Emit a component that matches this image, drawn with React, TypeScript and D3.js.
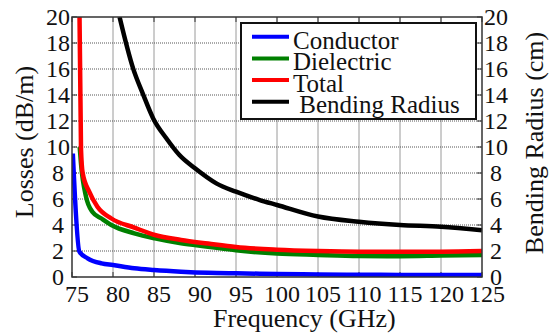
import React from "react";
import * as d3 from "d3";

const conductorFreq = [75.1, 75.9, 76.9, 78.6, 80, 82.6, 85, 88.3, 91.6, 95, 100, 105, 110, 115, 120, 125];
const conductorLoss = [9.5, 1.95, 1.44, 1.05, 0.92, 0.67, 0.54, 0.41, 0.32, 0.28, 0.24, 0.2, 0.17, 0.16, 0.15, 0.15];

const dielectricFreq = [75.94, 76.1, 76.7, 77.5, 78.6, 79.8, 82.6, 85.1, 88.3, 91.6, 95, 100, 105, 110, 115, 120, 125];
const dielectricLoss = [10.0, 8.7, 6.2, 5.0, 4.5, 4.0, 3.36, 2.97, 2.59, 2.33, 2.05, 1.8, 1.7, 1.62, 1.6, 1.65, 1.7];

const totalFreq = [75.9, 76.1, 76.3, 77.1, 78.1, 79.8, 82.6, 85.1, 88.3, 91.6, 95, 100, 105, 110, 115, 120, 125];
const totalLoss = [21, 9.8, 8.0, 6.56, 5.4, 4.5, 3.8, 3.23, 2.85, 2.57, 2.3, 2.1, 2.0, 1.95, 1.95, 1.95, 2.0];

const bendFreq = [80.8, 82.45, 83.67, 84.9, 86.5, 88.1, 90, 92.6, 95, 97.9, 100, 105, 110, 115, 120, 125];
const bendRadius = [20, 16.05, 14.05, 12.2, 10.67, 9.38, 8.36, 7.2, 6.56, 5.92, 5.54, 4.65, 4.25, 4.0, 3.87, 3.6];

const xTicks = [75, 80, 85, 90, 95, 100, 105, 110, 115, 120, 125];
const yTicks = [0, 2, 4, 6, 8, 10, 12, 14, 16, 18, 20];

const seriesNames = ["Conductor", "Dielectric", "Total", " Bending Radius"];
const seriesColors = ["#0000ff", "#008000", "#ff0000", "#000000"];

const W = 551, H = 335;
const L = 72, R = 482, T = 17, B = 277;
const FONT = '"Liberation Serif", Tinos, "Times New Roman", "DejaVu Serif", serif';

export default function App() {
  const x = d3.scaleLinear().domain([75, 125]).range([L, R]);
  const y = d3.scaleLinear().domain([0, 20]).range([B, T]);
  const line = (fs: number[], vs: number[]) =>
    d3.line<number>().x((_, i) => x(fs[i])).y((v) => y(v)).curve(d3.curveMonotoneX)(vs) || "";

  const series = [
    { f: conductorFreq, v: conductorLoss },
    { f: dielectricFreq, v: dielectricLoss },
    { f: totalFreq, v: totalLoss },
    { f: bendFreq, v: bendRadius },
  ];
  const txt = { fontFamily: FONT, fill: "#111" } as React.CSSProperties;

  return (
    <svg width={W} height={H} style={{ position: "absolute", left: 0, top: 0, background: "#fff", fontFamily: FONT }}>
      <defs>
        <clipPath id="plot">
          <rect x={L} y={T} width={R - L} height={B - T} />
        </clipPath>
      </defs>
      <rect x={0} y={0} width={W} height={H} fill="#fff" />
      {xTicks.slice(1, -1).map((t) => (
        <line key={"gx" + t} x1={x(t)} x2={x(t)} y1={T} y2={B} stroke="#9a9a9a" strokeWidth={1} />
      ))}
      {yTicks.slice(1, -1).map((t) => (
        <line key={"gy" + t} x1={L} x2={R} y1={y(t)} y2={y(t)} stroke="#555" strokeWidth={1} strokeDasharray="1,1" />
      ))}
      {xTicks.map((t) => (
        <g key={"tx" + t}>
          <line x1={x(t)} x2={x(t)} y1={B} y2={B - 5} stroke="#333" />
          <line x1={x(t)} x2={x(t)} y1={T} y2={T + 5} stroke="#333" />
        </g>
      ))}
      {yTicks.map((t) => (
        <g key={"ty" + t}>
          <line x1={L} x2={L + 5} y1={y(t)} y2={y(t)} stroke="#333" />
          <line x1={R} x2={R - 5} y1={y(t)} y2={y(t)} stroke="#333" />
        </g>
      ))}
      <g clipPath="url(#plot)">
        {series.map((s, i) => (
          <path key={i} d={line(s.f, s.v)} fill="none" stroke={seriesColors[i]} strokeWidth={4.5} strokeLinejoin="round" />
        ))}
      </g>
      <rect x={L} y={T} width={R - L} height={B - T} fill="none" stroke="#333" strokeWidth={1.5} />
      {yTicks.map((t) => (
        <g key={"ly" + t}>
          <text x={58} y={y(t)} dy="0.35em" textAnchor="middle" fontSize={24} style={txt}>{t}</text>
          <text x={496} y={y(t)} dy="0.35em" textAnchor="middle" fontSize={24} style={txt}>{t}</text>
        </g>
      ))}
      {xTicks.map((t) => (
        <text key={"lx" + t} x={x(t) + 5} y={302} textAnchor="middle" fontSize={24} style={txt}>{t}</text>
      ))}
      <text x={213} y={327} fontSize={26} style={txt}>Frequency (GHz)</text>
      <text transform={`translate(33,142) rotate(-90)`} textAnchor="middle" fontSize={26} style={txt}>Losses (dB/m)</text>
      <text transform={`translate(543,143) rotate(-90)`} textAnchor="middle" fontSize={26} style={txt}>Bending Radius (cm)</text>
      <rect x={241} y={23} width={235} height={96} fill="#fff" stroke="#111" strokeWidth={2} />
      {seriesNames.map((n, i) => (
        <g key={"lg" + i}>
          <line x1={252} x2={289} y1={36.7 + i * 21.7} y2={36.7 + i * 21.7} stroke={seriesColors[i]} strokeWidth={4} />
          <text x={293} y={48.5 + i * 21.6} fontSize={25} style={{ ...txt, whiteSpace: "pre" }}>{n}</text>
        </g>
      ))}
    </svg>
  );
}
